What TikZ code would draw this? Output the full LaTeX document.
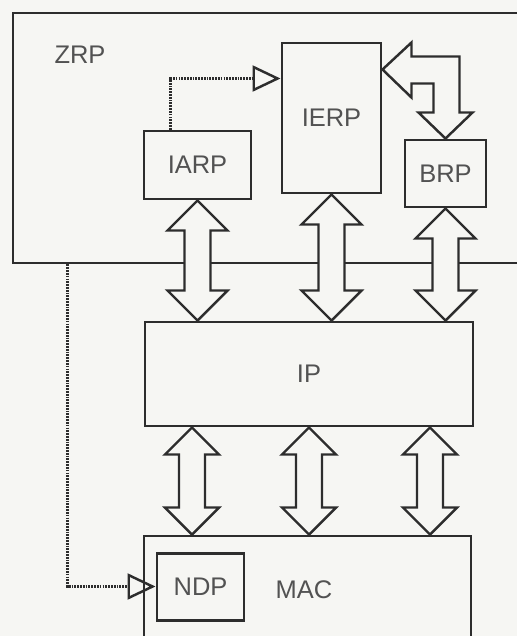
\documentclass[tikz,border=0pt]{standalone}
\usepackage{fontspec}
\setmainfont{Liberation Sans}
\usetikzlibrary{arrows.meta,calc,fit}
\definecolor{paper}{RGB}{246,246,243}
\definecolor{ink}{RGB}{45,45,45}
\newcommand*{\px}{0.02cm}
\newcommand*{\shaft}{13}
% hollow double arrow: top point, bottom point, head size
\newcommand{\dblarrow}[3]{%
	\draw[bigarrow] (#1) -- ($(#1)+(#3,#3)$) -- ($(#1)+(\shaft,#3)$) -- ($(#2)+(\shaft,-#3)$) -- ($(#2)+(#3,-#3)$) -- (#2)
		-- ($(#2)+(-#3,-#3)$) -- ($(#2)+(-\shaft,-#3)$) -- ($(#1)+(-\shaft,#3)$) -- ($(#1)+(-#3,#3)$) -- cycle;}

\begin{document}
\begin{tikzpicture}[x=\px, y=-\px,
	box/.style={draw=ink, line width=1.7pt, inner sep=0pt, font=\fontsize{14.5}{16}\selectfont, text=black!68},
	tag/.style={font=\fontsize{14.5}{16}\selectfont, text=black!68},
	bigarrow/.style={draw=ink, line width=1.4pt, fill=paper, line join=miter},
	link/.style={draw=ink, line width=1.4pt, dash pattern=on 1pt off 0.6pt, -{Triangle[open, length=0.56cm, width=0.52cm]}}]

	\useasboundingbox (0,0) rectangle (517,636);
	\fill[paper] (0,0) rectangle (517,636);
	\clip (0,0) rectangle (517,636);

	% routing layer
	\node[box, fit={(13,13) (545,263)}] (zrp) {};
	\node[tag] (zrplabel) at (80,55) {ZRP};
	\node[box, minimum width=99*\px, minimum height=150*\px] (ierp) at (331.5,118) {IERP};
	\node[box, minimum width=107*\px, minimum height=68*\px] (iarp) at (197.5,165) {IARP};
	\node[box, minimum width=81*\px, minimum height=67*\px] (brp) at (445.5,173.5) {BRP};

	\node[box, minimum width=328*\px, minimum height=104*\px] (ip) at (309,374) {IP};

	\node[box, fit={(144,536) (471,660)}] (mac) {};
	\node[tag] (maclabel) at (304,590) {MAC};
	\node[box, minimum width=87*\px, minimum height=67*\px] (ndp) at (200.5,586.5) {NDP};

	% ZRP <-> IP
	\coordinate (t1) at (iarp.south);
	\coordinate (t2) at (ierp.south);
	\coordinate (t3) at (brp.south);
	\coordinate (b1) at (t1 |- ip.north);
	\coordinate (b2) at (t2 |- ip.north);
	\coordinate (b3) at (t3 |- ip.north);
	\dblarrow{t1}{b1}{30}
	\dblarrow{t2}{b2}{30}
	\dblarrow{t3}{b3}{30}

	% IP <-> MAC
	\coordinate (u1) at ($(ip.south)+(-117,0)$);
	\coordinate (u2) at (ip.south);
	\coordinate (u3) at ($(ip.south)+(121,0)$);
	\coordinate (m1) at (u1 |- mac.north);
	\coordinate (m2) at (u2 |- mac.north);
	\coordinate (m3) at (u3 |- mac.north);
	\dblarrow{u1}{m1}{27}
	\dblarrow{u2}{m2}{27}
	\dblarrow{u3}{m3}{27}

	% IERP <-> BRP
	\coordinate (be) at ($(ierp.north east)+(0,28)$);
	\coordinate (bb) at (brp.north);
	\coordinate (bc) at (bb |- be);
	\draw[bigarrow] (be) -- ($(be)+(29,-27)$) -- ($(be)+(29,-13)$) -- ($(bc)+(14,-13)$) -- ($(bb)+(14,-26)$)
		-- ($(bb)+(27,-26)$) -- (bb) -- ($(bb)+(-27,-26)$) -- ($(bb)+(-12,-26)$) -- ($(bc)+(-12,14)$)
		-- ($(be)+(29,14)$) -- ($(be)+(29,28)$) -- cycle;

	% IARP -> IERP, ZRP -> NDP
	\coordinate (ia) at ($(iarp.north west)+(28,0)$);
	\coordinate (ie) at ($(ierp.north west)+(0,37)$);
	\draw[link] (ia) |- (ie);
	\coordinate (zn) at ($(zrp.south west)+(56,0)$);
	\draw[link] (zn) |- (ndp.west);
\end{tikzpicture}
\end{document}
